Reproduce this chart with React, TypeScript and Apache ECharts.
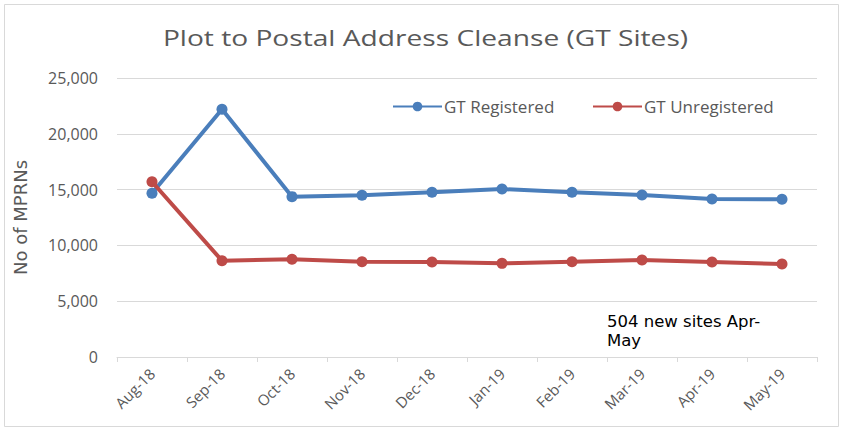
import React, { useEffect, useRef } from "react";
import * as echarts from "echarts";

const categories = ["Aug-18", "Sep-18", "Oct-18", "Nov-18", "Dec-18", "Jan-19", "Feb-19", "Mar-19", "Apr-19", "May-19"];
const gtRegistered = [14670, 22200, 14370, 14490, 14760, 15050, 14760, 14520, 14160, 14130];
const gtUnregistered = [15700, 8630, 8750, 8540, 8510, 8390, 8540, 8690, 8510, 8330];
const yTicks = { min: 0, max: 25000, interval: 5000 };
const titleText = "Plot to Postal Address Cleanse (GT Sites)";
const noteLines = ["504 new sites Apr-", "May"];
const seriesNames = ["GT Registered", "GT Unregistered"];

export default function App() {
  const ref = useRef<HTMLDivElement>(null);
  useEffect(() => {
    if (!ref.current) return;
    const chart = echarts.init(ref.current, undefined, { renderer: "svg" });
    const sym = { symbol: "circle", symbolSize: 11 };
    const legendBase = {
      top: 93,
      itemWidth: 49,
      itemHeight: 12,
      itemGap: 30,
      textStyle: { fontFamily: "Open Sans", fontSize: 17, color: "#595959", padding: [0, 0, 0, -3] },
    };
    chart.setOption({
      animation: false,
      backgroundColor: "#ffffff",
      legend: [
        { ...legendBase, left: 387, data: [seriesNames[0]] },
        { ...legendBase, left: 587, data: [seriesNames[1]] },
      ],
      grid: { left: 117, right: 28, top: 78, bottom: 75, containLabel: false },
      xAxis: {
        type: "category",
        data: categories,
        boundaryGap: true,
        axisLine: { lineStyle: { color: "#d9d9d9", width: 1 } },
        axisTick: { show: true, alignWithLabel: false, length: 5, lineStyle: { color: "#d9d9d9" } },
        axisLabel: { rotate: 45, margin: 14, fontFamily: "Open Sans", fontSize: 15, color: "#595959" },
      },
      yAxis: {
        type: "value",
        min: yTicks.min,
        max: yTicks.max,
        interval: yTicks.interval,
        name: "No of MPRNs",
        nameLocation: "middle",
        nameGap: 88,
        nameRotate: 90,
        nameTextStyle: { fontFamily: "DejaVu Sans", fontSize: 18, color: "#595959" },
        axisLine: { show: false },
        axisTick: { show: false },
        splitLine: { lineStyle: { color: "#d9d9d9", width: 1 } },
        axisLabel: {
          margin: 19,
          fontFamily: "Open Sans",
          fontSize: 16,
          color: "#595959",
          formatter: (v: number) => v.toLocaleString("en-US"),
        },
      },
      series: [
        {
          name: seriesNames[0],
          type: "line",
          data: gtRegistered,
          ...sym,
          color: "#4a7ebb",
          lineStyle: { width: 4, color: "#4a7ebb" },
          itemStyle: { color: "#4a7ebb" },
        },
        {
          name: seriesNames[1],
          type: "line",
          data: gtUnregistered,
          ...sym,
          color: "#be4b48",
          lineStyle: { width: 4, color: "#be4b48" },
          itemStyle: { color: "#be4b48" },
        },
      ],
      graphic: [
        {
          type: "rect",
          shape: { x: 4.5, y: 4.5, width: 834, height: 422 },
          style: { fill: "none", stroke: "#d9d9d9", lineWidth: 1 },
          silent: true,
        },
        {
          type: "text",
          x: 425.5,
          y: 37,
          scaleX: 1.28,
          style: {
            text: titleText,
            fontFamily: "Open Sans",
            fontSize: 22,
            fill: "#595959",
            textAlign: "center",
            textVerticalAlign: "middle",
          },
        },
        {
          type: "text",
          left: 607,
          top: 312,
          style: {
            text: noteLines.join("\n"),
            fontFamily: "DejaVu Sans",
            fontSize: 16.5,
            lineHeight: 19,
            fill: "#000000",
          },
        },
      ],
    });
    return () => chart.dispose();
  }, []);
  return <div ref={ref} style={{ width: 845, height: 432, position: "absolute", left: 0, top: 0 }} />;
}
